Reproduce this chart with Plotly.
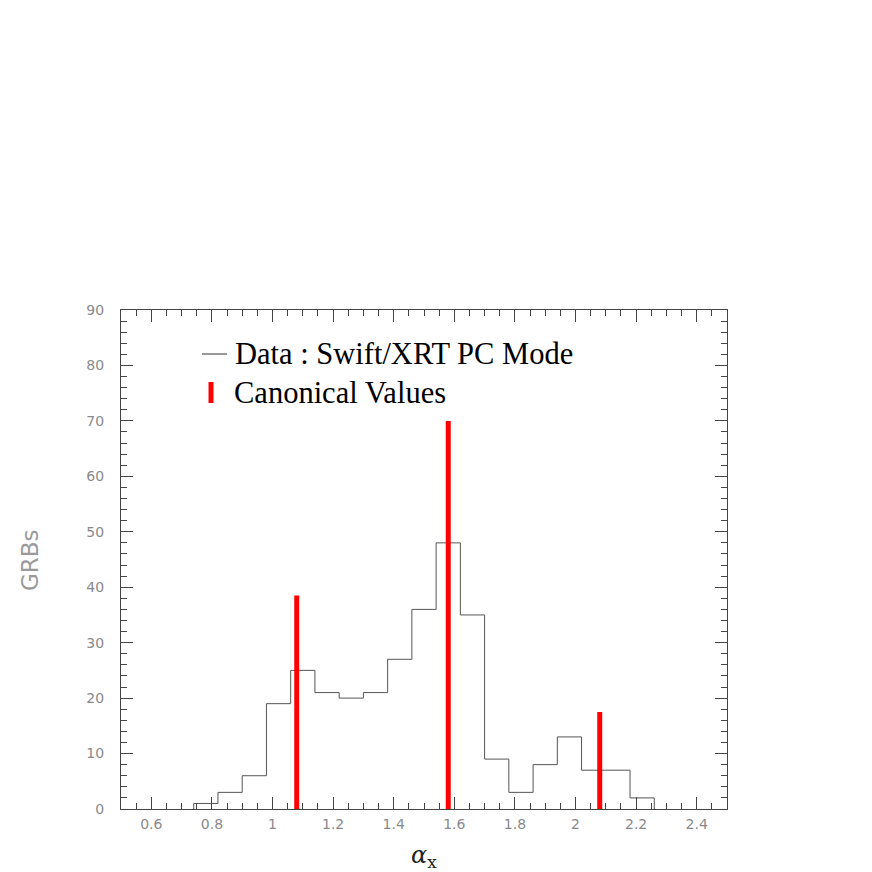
import plotly.graph_objects as go

# Histogram data (bin edges width 0.08)
bin_edges = [0.74, 0.82, 0.90, 0.98, 1.06, 1.14, 1.22, 1.30, 1.38, 1.46, 1.54,
             1.62, 1.70, 1.78, 1.86, 1.94, 2.02, 2.10, 2.18, 2.26]
counts = [1, 3, 6, 19, 25, 21, 20, 21, 27, 36, 48, 35, 9, 3, 8, 13, 7, 7, 2]

# Canonical values
canon_x = [1.08, 1.58, 2.08]
canon_y = [38.5, 70, 17.5]

x_ticks = [0.6, 0.8, 1.0, 1.2, 1.4, 1.6, 1.8, 2.0, 2.2, 2.4]
x_tick_labels = ["0.6", "0.8", "1", "1.2", "1.4", "1.6", "1.8", "2", "2.2", "2.4"]
y_ticks = [0, 10, 20, 30, 40, 50, 60, 70, 80, 90]

# step outline
hx = [bin_edges[0]] + bin_edges + [bin_edges[-1]]
hy = [0] + counts + [counts[-1], 0]

fig = go.Figure()
fig.add_trace(go.Scatter(x=hx, y=hy, mode="lines", line=dict(shape="hv", color="#555555", width=1),
                         showlegend=False, hoverinfo="skip"))

cx, cy = [], []
for xv, yv in zip(canon_x, canon_y):
    cx += [xv, xv, None]
    cy += [0, yv, None]
fig.add_trace(go.Scatter(x=cx, y=cy, mode="lines", line=dict(color="#ff0000", width=5),
                         showlegend=False, hoverinfo="skip"))

tickfont = dict(family="DejaVu Sans", size=14, color="#8a8a8a")
fig.update_xaxes(range=[0.5, 2.5], tickvals=x_ticks, ticktext=x_tick_labels,
                 ticks="inside", ticklen=12, tickcolor="#444", tickwidth=1,
                 showline=True, linecolor="#444", linewidth=1, mirror="ticks",
                 showgrid=False, zeroline=False, tickfont=tickfont, ticklabelstandoff=2,
                 minor=dict(ticks="inside", ticklen=6, dtick=0.05, tick0=0, tickcolor="#444", showgrid=False))
fig.update_yaxes(range=[0, 90], tickvals=y_ticks,
                 ticks="inside", ticklen=12, tickcolor="#444", tickwidth=1,
                 showline=True, linecolor="#444", linewidth=1, mirror="ticks",
                 showgrid=False, zeroline=False, tickfont=tickfont, ticklabelstandoff=13,
                 minor=dict(ticks="inside", ticklen=6, dtick=2, tick0=0, tickcolor="#444", showgrid=False))

# legend drawn manually in paper coordinates (screen px -> paper)
def px(sx):
    return (sx - 121) / 606

def py(sy):
    return (809 - sy) / 499

legfont = dict(family="Liberation Serif", size=30.5, color="black")
fig.add_shape(type="line", xref="paper", yref="paper", x0=px(202), x1=px(227),
              y0=py(354), y1=py(354), line=dict(color="#333", width=1))
fig.add_shape(type="line", xref="paper", yref="paper", x0=px(211), x1=px(211),
              y0=py(403), y1=py(382), line=dict(color="#ff0000", width=5))
fig.add_annotation(xref="paper", yref="paper", x=px(233), y=py(354),
                   text="Data : Swift/XRT PC Mode", showarrow=False, xanchor="left", yanchor="middle",
                   font=legfont)
fig.add_annotation(xref="paper", yref="paper", x=px(232), y=py(393),
                   text="Canonical Values", showarrow=False, xanchor="left", yanchor="middle",
                   font=legfont)

# axis titles
fig.add_annotation(xref="paper", yref="paper", x=px(30), y=py(560),
                   text="GRBs", showarrow=False, textangle=-90, xanchor="center", yanchor="middle",
                   font=dict(family="DejaVu Sans", size=23, color="#9a9a9a"))
fig.add_annotation(xref="paper", yref="paper", x=px(424), y=py(856),
                   text="<i>α</i><sub>x</sub>", showarrow=False, xanchor="center", yanchor="middle",
                   font=dict(family="DejaVu Serif", size=24, color="#222"))

fig.update_layout(width=872, height=872, plot_bgcolor="white", paper_bgcolor="white",
                  margin=dict(l=113, r=153, t=302, b=71), autosize=False)

fig.write_html("out.html")
